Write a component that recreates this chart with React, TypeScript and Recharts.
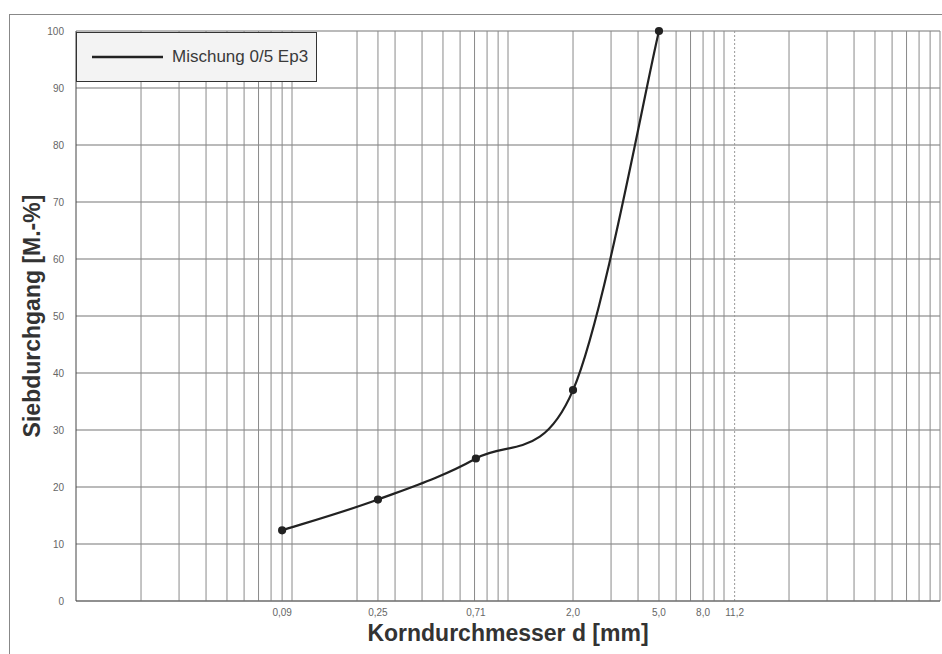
import React from 'react';
import { LineChart, Line, XAxis, YAxis, CartesianGrid, ReferenceLine, Legend } from 'recharts';

// Sieve sizes (mm) and cumulative passing (M.-%)
const sieveSizes = [0.09, 0.25, 0.71, 2.0, 5.0];
const passing = [12.4, 17.8, 25, 37, 100];

const xTicks = [0.09, 0.25, 0.71, 2.0, 5.0, 8.0, 11.2];
const yTicks = [0, 10, 20, 30, 40, 50, 60, 70, 80, 90, 100];

// log-paper grid lines
const gridSizes = [
  0.02, 0.03, 0.04, 0.05, 0.06, 0.07, 0.08, 0.09,
  0.1, 0.2, 0.25, 0.3, 0.4, 0.5, 0.6, 0.7, 0.8, 0.9,
  1, 2, 3, 4, 5, 6, 7, 8, 9,
  10, 20, 30, 40, 50, 60, 70, 80, 90, 100,
];
const dottedSizes = [11.2];

const data = sieveSizes.map((d, i) => ({ d, passing: passing[i] }));

const fmt = (v: number) => (v < 1 ? v.toFixed(2) : v.toFixed(1)).replace('.', ',');

// Catmull-Rom style smoothing (tangent = (next - prev) / 6 control offsets)
const smoothCurve = (context: any) => {
  let pts: [number, number][] = [];
  return {
    areaStart() {},
    areaEnd() {},
    lineStart() {
      pts = [];
    },
    point(x: number, y: number) {
      pts.push([+x, +y]);
    },
    lineEnd() {
      const n = pts.length;
      if (!n) return;
      context.moveTo(pts[0][0], pts[0][1]);
      for (let i = 0; i < n - 1; i++) {
        const p0 = pts[Math.max(i - 1, 0)];
        const p1 = pts[i];
        const p2 = pts[i + 1];
        const p3 = pts[Math.min(i + 2, n - 1)];
        context.bezierCurveTo(
          p1[0] + (p2[0] - p0[0]) / 6,
          p1[1] + (p2[1] - p0[1]) / 6,
          p2[0] - (p3[0] - p1[0]) / 6,
          p2[1] - (p3[1] - p1[1]) / 6,
          p2[0],
          p2[1],
        );
      }
    },
  };
};

const LegendBox = () => (
  <div
    style={{
      width: 241,
      height: 50,
      boxSizing: 'border-box',
      border: '1.5px solid #333',
      background: '#f3f3f3',
      display: 'flex',
      alignItems: 'center',
      fontFamily: 'Liberation Sans, Arial, sans-serif',
      fontSize: 17,
      color: '#3a3a3a',
    }}
  >
    <svg width={95} height={10}>
      <line x1={15} y1={5} x2={86} y2={5} stroke="#222" strokeWidth={2.5} />
    </svg>
    <span>Mischung 0/5 Ep3</span>
  </div>
);

const App: React.FC = () => {
  return (
    <div style={{ position: 'absolute', left: 0, top: 0, width: 942, height: 654, overflow: 'hidden', background: '#fff' }}>
      <div
        style={{
          position: 'absolute',
          left: 9,
          top: 14,
          width: 1000,
          height: 700,
          border: '1px solid #888',
        }}
      />
      <LineChart
        width={942}
        height={654}
        data={data}
        margin={{ top: 31, right: 2, left: 0, bottom: 0 }}
        style={{ fontFamily: 'Liberation Sans, Arial, sans-serif' }}
      >
        <CartesianGrid vertical={false} stroke="#777" strokeWidth={1.2} />
        {gridSizes.map((g) => (
          <ReferenceLine key={g} x={g} stroke="#8a8a8a" strokeWidth={1} />
        ))}
        {dottedSizes.map((g) => (
          <ReferenceLine key={g} x={g} stroke="#999" strokeDasharray="2 2" />
        ))}
        <XAxis
          dataKey="d"
          type="number"
          scale="log"
          domain={[0.01, 100]}
          ticks={xTicks}
          tickFormatter={fmt}
          allowDataOverflow
          height={53}
          tickLine={false}
          axisLine={{ stroke: '#666' }}
          tick={{ fontSize: 10, fill: '#666' }}
          label={{
            value: 'Korndurchmesser d [mm]',
            position: 'center',
            dy: 5,
            style: { fontSize: 23, fontWeight: 'bold', fill: '#333' },
          }}
        />
        <YAxis
          type="number"
          domain={[0, 100]}
          ticks={yTicks}
          width={76}
          tickLine={false}
          axisLine={{ stroke: '#444' }}
          tick={{ fontSize: 10, fill: '#666', dx: -4 }}
          label={{
            value: 'Siebdurchgang [M.-%]',
            angle: -90,
            position: 'center',
            dx: -6,
            style: { fontSize: 23, fontWeight: 'bold', fill: '#333' },
          }}
        />
        <Legend
          layout="horizontal"
          verticalAlign="middle"
          align="center"
          wrapperStyle={{ left: 76, top: 32, width: 242 }}
          content={() => <LegendBox />}
        />
        <Line
          type={smoothCurve as any}
          dataKey="passing"
          name="Mischung 0/5 Ep3"
          stroke="#222"
          strokeWidth={2.2}
          dot={{ r: 3, fill: '#222', stroke: '#222' }}
          isAnimationActive={false}
        />
      </LineChart>
    </div>
  );
};

export default App;
